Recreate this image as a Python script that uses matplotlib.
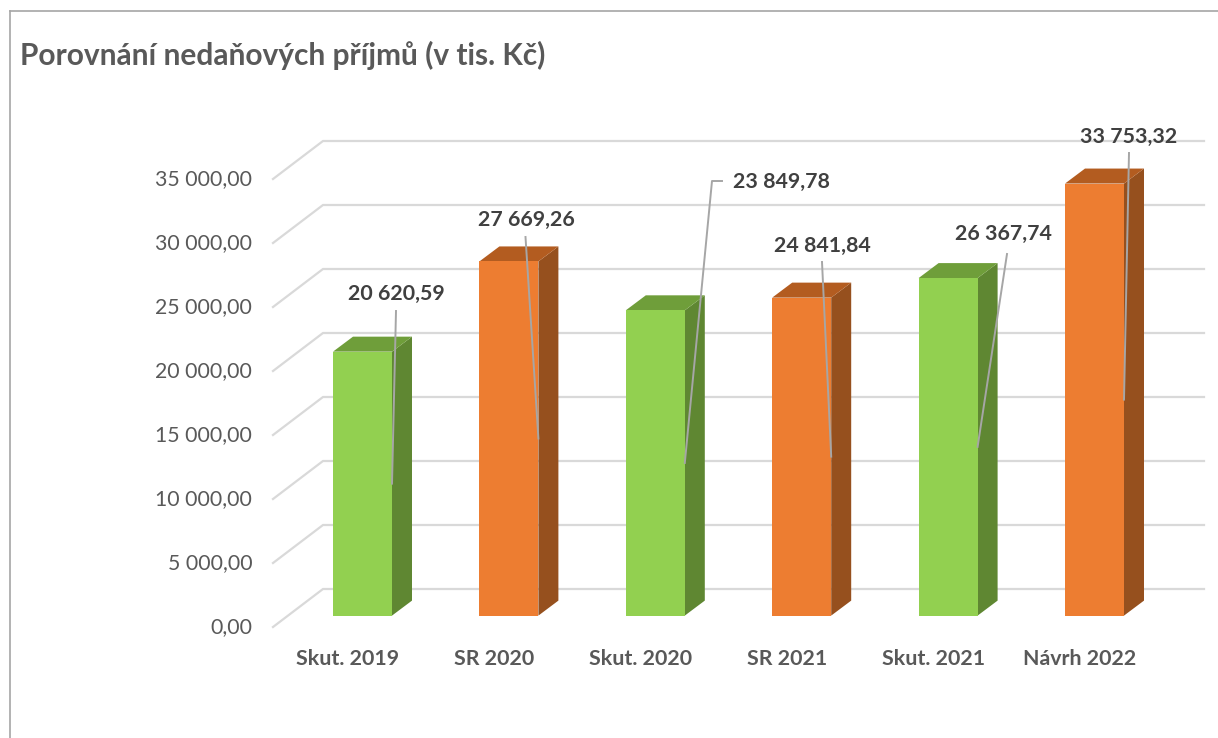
import matplotlib
matplotlib.use("Agg")
import matplotlib.pyplot as plt
from matplotlib.lines import Line2D
from matplotlib.patches import Polygon
from matplotlib.transforms import ScaledTranslation

categories = ["Skut. 2019", "SR 2020", "Skut. 2020", "SR 2021", "Skut. 2021", "Návrh 2022"]
values = [20620.59, 27669.26, 23849.78, 24841.84, 26367.74, 33753.32]
value_labels = ["20 620,59", "27 669,26", "23 849,78", "24 841,84", "26 367,74", "33 753,32"]
tick_values = [0, 5000, 10000, 15000, 20000, 25000, 30000, 35000]
tick_labels = ["0,00", "5 000,00", "10 000,00", "15 000,00", "20 000,00", "25 000,00", "30 000,00", "35 000,00"]
kinds = ["g", "o", "g", "o", "g", "o"]
title = "Porovnání nedaňových příjmů (v tis. Kč)"

FONT = ["Lato", "DejaVu Sans"]
plt.rcParams["font.family"] = FONT
W, H = 1218, 738
fig = plt.figure(figsize=(W / 100, H / 100), dpi=100, facecolor="white")

# pixel geometry of the pseudo-3D plot
L, R, T, B = 273, 1204, 141, 627
ax = fig.add_axes([L / W, 1 - B / H, (R - L) / W, (B - T) / H])
ax.patch.set_alpha(0)
UX = 146.4              # px per category
UY = 64 / 5000          # px per value unit
X0 = 347.5              # px of first category on the front plane
ax.set_xlim((L - X0) / UX, (R - X0) / UX)
ax.set_ylim(0, (B - T) / UY)
for s in ax.spines.values():
    s.set_visible(False)

dx = lambda px: px / UX
dy = lambda px: px / UY

# grid: slanted floor-side part + back wall line
for t in tick_values:
    x0 = ax.get_xlim()[0]
    ax.plot([x0, x0 + dx(50), ax.get_xlim()[1]], [t, t + dy(38), t + dy(38)],
            color="#d9d9d9", lw=1.6, zorder=1, clip_on=False, solid_joinstyle="miter")

colors = {"g": ("#92d050", "#5f8732", "#6f9e3a"), "o": ("#ed7d31", "#96501e", "#b35c20")}
bw = dx(59)
sx, sy = dx(15), dy(11.4)   # bar front plane offset from the axis front plane
ddx, ddy = dx(20), dy(15)   # bar depth

label_pos = [(396, 293.5), (526, 219.5), (781, 181.5), (822, 245.5), (1003, 233.5), (1129, 136.5)]
leader_start = [(396, 311), (525.5, 237), (722, 181), (822, 262), (1007, 254), (1129, 153)]

for i, (v, k) in enumerate(zip(values, kinds)):
    front, side, top = colors[k]
    xl = i + sx - bw / 2
    xr = xl + bw
    ax.add_patch(Polygon([(xr, sy), (xr + ddx, sy + ddy), (xr + ddx, v + sy + ddy), (xr, v + sy)],
                         fc=side, ec="none", zorder=3, clip_on=False))
    ax.add_patch(Polygon([(xl, v + sy), (xl + ddx, v + sy + ddy), (xr + ddx, v + sy + ddy), (xr, v + sy)],
                         fc=top, ec="none", zorder=3, clip_on=False))
    ax.bar(i + sx, v, width=bw, bottom=sy, color=front, zorder=4, clip_on=False)

    # leader line ends at the middle of the front-right edge
    end = ax.transData.transform((xr, v / 2 + sy))
    xs_px = [leader_start[i][0], end[0]]
    ys_px = [H - leader_start[i][1], end[1]]
    if i == 2:
        xs_px = [leader_start[i][0], 712, end[0]]
        ys_px = [H - leader_start[i][1], H - 181, end[1]]
    fig.add_artist(Line2D(xs_px, ys_px, transform=None, color="#a6a6a6", lw=1.4, zorder=5))
    fig.text(label_pos[i][0] / W, 1 - label_pos[i][1] / H, value_labels[i], ha="center", va="center",
             fontsize=15.4, fontweight="bold", color="#404040", zorder=6)

ax.set_yticks(tick_values, tick_labels)
ax.set_xticks(range(len(categories)), categories)
ax.tick_params(axis="y", length=0, pad=15, labelsize=15.3, labelcolor="#595959")
ax.tick_params(axis="x", length=0, pad=16, labelsize=15.4, labelcolor="#595959")
for lab in ax.get_xticklabels():
    lab.set_fontweight("bold")
for tk in ax.yaxis.get_major_ticks():
    tk.label1.set_transform(tk.label1.get_transform() + ScaledTranslation(0, 2 / 100, fig.dpi_scale_trans))

fig.text(20 / W, 1 - 55 / H, title, ha="left", va="center", fontsize=21.5, fontweight="bold", color="#595959")

frame = "#a6a6a6"
fig.add_artist(Line2D([10 / W, 10 / W], [0, 1 - 10.5 / H], color=frame, lw=1.2))
fig.add_artist(Line2D([10 / W, 1], [1 - 10.5 / H, 1 - 10.5 / H], color=frame, lw=1.2))

fig.savefig("out.png", dpi=100)
